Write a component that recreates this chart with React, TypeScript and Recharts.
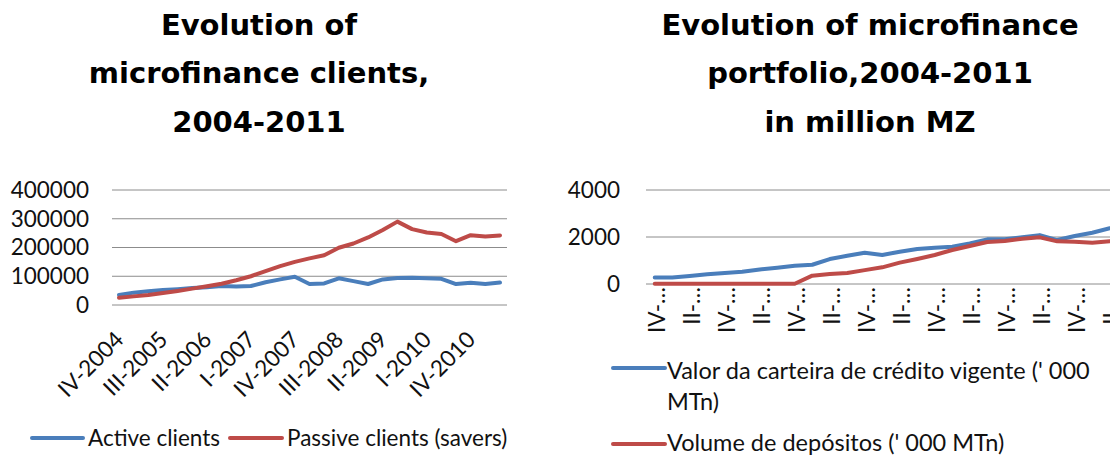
import React from 'react';
import { LineChart, Line, XAxis, YAxis, CartesianGrid } from 'recharts';

const quarters = [
  'IV-2004', 'I-2005', 'II-2005', 'III-2005', 'IV-2005',
  'I-2006', 'II-2006', 'III-2006', 'IV-2006',
  'I-2007', 'II-2007', 'III-2007', 'IV-2007',
  'I-2008', 'II-2008', 'III-2008', 'IV-2008',
  'I-2009', 'II-2009', 'III-2009', 'IV-2009',
  'I-2010', 'II-2010', 'III-2010', 'IV-2010',
  'I-2011', 'II-2011',
];

const activeClients = [
  35000, 43000, 48000, 52000, 55000, 59000, 62000, 66000, 64000,
  66000, 79000, 89000, 98000, 73000, 75000, 93000, 83000, 73000,
  89000, 94000, 95000, 93000, 91000, 73000, 77000, 73000, 78000,
];

const passiveClients = [
  25000, 30000, 35000, 42000, 49000, 57000, 65000, 74000, 86000,
  100000, 118000, 135000, 150000, 162000, 173000, 199000, 214000, 235000,
  261000, 290000, 264000, 252000, 247000, 222000, 243000, 238000, 242000,
];

const creditPortfolio = [
  280, 280, 340, 410, 470, 525, 620, 695, 780,
  820, 1060, 1200, 1333, 1234, 1375, 1490, 1546, 1590,
  1730, 1900, 1900, 1985, 2080, 1870, 2040, 2180, 2370,
];

const deposits = [
  10, 10, 10, 10, 10, 10, 10, 10, 10,
  355, 425, 470, 590, 709, 908, 1064, 1234, 1446,
  1617, 1787, 1830, 1929, 1985, 1815, 1800, 1758, 1815,
];

const clientTicks = [0, 100000, 200000, 300000, 400000];
const portfolioTicks = [0, 2000, 4000];

const clientsData = quarters.map((q, i) => ({
  q,
  active: activeClients[i],
  passive: passiveClients[i],
}));

const portfolioData = quarters.map((q, i) => ({
  q,
  credit: creditPortfolio[i],
  deposits: deposits[i],
}));

const BLUE = '#4A7EBB';
const RED = '#BE4B48';
const GRID = '#8c8c8c';
const FONT = 'Lato, "Noto Sans", sans-serif';
const TITLE_FONT = '"DejaVu Sans", sans-serif';
const FS = 22.5;
const FS_R = 23.5;

const LeftTick = (props: any) => {
  const { x, y, payload } = props;
  const ax = x + 6;
  const ay = y + 28;
  return (
    <text
      x={ax}
      y={ay}
      textAnchor="end"
      fontFamily={FONT}
      fontSize={FS}
      fill="#111"
      transform={`rotate(-45 ${ax} ${ay})`}
    >
      {payload.value}
    </text>
  );
};

const RightTick = (props: any) => {
  const { x, y, payload } = props;
  const ax = x + 10;
  const ay = y - 5;
  const label = String(payload.value).split('-')[0] + '-…';
  return (
    <text
      x={ax}
      y={ay}
      textAnchor="end"
      fontFamily={FONT}
      fontSize={FS}
      fill="#111"
      transform={`rotate(-90 ${ax} ${ay})`}
    >
      {label}
    </text>
  );
};

export default function App() {
  return (
    <div
      style={{
        position: 'fixed',
        left: 0,
        top: 0,
        width: 1110,
        height: 455,
        overflow: 'hidden',
        background: '#fff',
      }}
    >
      <div style={{ position: 'absolute', left: 0, top: 0 }}>
        <LineChart
          width={540}
          height={455}
          data={clientsData}
          margin={{ top: 190, right: 33, bottom: 0, left: 0 }}
        >
          <CartesianGrid vertical={false} stroke={GRID} strokeWidth={1} />
          <XAxis
            dataKey="q"
            height={150}
            interval={2}
            tickLine={false}
            axisLine={false}
            padding={{ left: 7, right: 7 }}
            tick={<LeftTick />}
          />
          <YAxis
            width={112}
            domain={[0, 400000]}
            ticks={clientTicks}
            interval={0}
            tickLine={false}
            axisLine={false}
            tickMargin={17}
            tick={{ fontFamily: FONT, fontSize: FS, fill: '#111' }}
          />
          <Line
            type="linear"
            dataKey="active"
            name="Active clients"
            stroke={BLUE}
            strokeWidth={4}
            dot={false}
            strokeLinejoin="round"
            strokeLinecap="round"
            isAnimationActive={false}
          />
          <Line
            type="linear"
            dataKey="passive"
            name="Passive clients (savers)"
            stroke={RED}
            strokeWidth={4}
            dot={false}
            strokeLinejoin="round"
            strokeLinecap="round"
            isAnimationActive={false}
          />
        </LineChart>
      </div>

      <div style={{ position: 'absolute', left: 540, top: 0 }}>
        <LineChart
          width={600}
          height={455}
          data={portfolioData}
          margin={{ top: 190, right: 21.5, bottom: 0, left: 0 }}
        >
          <CartesianGrid vertical={false} stroke={GRID} strokeWidth={1} />
          <XAxis
            dataKey="q"
            height={171}
            interval={1}
            tickLine={false}
            axisLine={false}
            padding={{ left: 8.75, right: 8.75 }}
            tick={<RightTick />}
          />
          <YAxis
            width={106}
            domain={[0, 4000]}
            ticks={portfolioTicks}
            interval={0}
            tickLine={false}
            axisLine={false}
            tickMargin={20}
            tick={{ fontFamily: FONT, fontSize: FS, fill: '#111' }}
          />
          <Line
            type="linear"
            dataKey="credit"
            name="Valor da carteira de crédito vigente (' 000 MTn)"
            stroke={BLUE}
            strokeWidth={4}
            dot={false}
            strokeLinejoin="round"
            strokeLinecap="round"
            isAnimationActive={false}
          />
          <Line
            type="linear"
            dataKey="deposits"
            name="Volume de depósitos (' 000 MTn)"
            stroke={RED}
            strokeWidth={4}
            dot={false}
            strokeLinejoin="round"
            strokeLinecap="round"
            isAnimationActive={false}
          />
        </LineChart>
      </div>

      <svg
        width={1110}
        height={455}
        style={{ position: 'absolute', left: 0, top: 0, pointerEvents: 'none' }}
      >
        <g fontFamily={TITLE_FONT} fontWeight="bold" fontSize={29} fill="#000" textAnchor="middle">
          <text x={259} y={35}>Evolution of</text>
          <text x={259} y={83}>microfinance clients,</text>
          <text x={259} y={132}>2004-2011</text>
          <text x={870} y={35}>Evolution of microfinance</text>
          <text x={870} y={83}>portfolio,2004-2011</text>
          <text x={870} y={132}>in million MZ</text>
        </g>
        <g fontFamily={FONT} fontSize={FS} fill="#111">
          <line x1={32} y1={438} x2={83} y2={438} stroke={BLUE} strokeWidth={4} strokeLinecap="round" />
          <text x={88} y={446}>Active clients</text>
          <line x1={230} y1={438} x2={282} y2={438} stroke={RED} strokeWidth={4} strokeLinecap="round" />
          <text x={287} y={446}>Passive clients (savers)</text>
        </g>
        <g fontFamily={FONT} fontSize={FS_R} fill="#111">
          <line x1={613} y1={368} x2={665} y2={368} stroke={BLUE} strokeWidth={4} strokeLinecap="round" />
          <text x={667} y={379}>Valor da carteira de crédito vigente (' 000</text>
          <text x={667} y={410}>MTn)</text>
          <line x1={613} y1={444} x2={665} y2={444} stroke={RED} strokeWidth={4} strokeLinecap="round" />
          <text x={667} y={451}>Volume de depósitos (' 000 MTn)</text>
        </g>
      </svg>
    </div>
  );
}
